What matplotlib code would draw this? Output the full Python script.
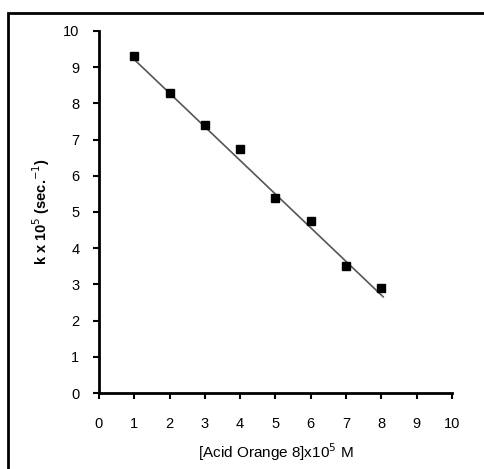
import matplotlib
matplotlib.use('Agg')
import matplotlib.pyplot as plt
import numpy as np
from matplotlib.patches import Rectangle

# data
conc = [1, 2, 3, 4, 5, 6, 7, 8]
k_obs = [9.3, 8.3, 7.4, 6.75, 5.4, 4.75, 3.5, 2.9]
x_ticks = [0, 1, 2, 3, 4, 5, 6, 7, 8, 9, 10]
y_ticks = [0, 1, 2, 3, 4, 5, 6, 7, 8, 9, 10]

plt.rcParams['font.family'] = ['Liberation Sans', 'DejaVu Sans']

fig = plt.figure(figsize=(4.85, 4.69), dpi=100)
ax = fig.add_axes([0.204, 0.162, 0.728, 0.772])

# outer frame of the original figure
fig.patches.append(Rectangle((0.0165, -0.1), 1.1, 1.072, transform=fig.transFigure,
                             fill=False, edgecolor='black', linewidth=2))

slope, intercept = np.polyfit(conc, k_obs, 1)
xf = np.array([conc[0], conc[-1] + 0.05])
ax.plot(xf, slope * xf + intercept - 0.08, color='#555555', linewidth=1.2)
ax.plot(conc, k_obs, 's', color='black', markersize=6)

ax.set_xlim(0, 10)
ax.set_ylim(0, 10)
ax.set_xticks(x_ticks)
ax.set_yticks(y_ticks)
ax.spines['top'].set_visible(False)
ax.spines['right'].set_visible(False)
ax.spines['left'].set_linewidth(2)
ax.spines['bottom'].set_linewidth(2)
ax.tick_params(direction='out', length=4, width=1.5, labelsize=10.5, colors='black')
ax.tick_params(axis='x', pad=13)
ax.tick_params(axis='y', pad=10)

ax.set_xlabel('[Acid Orange 8]x10$^5$ M', fontsize=11, labelpad=8)
ax.set_ylabel('k x 10$^5$ (sec.$^{-1}$)', fontsize=10.5, fontweight='bold', labelpad=8)

fig.savefig('out.png', dpi=100)
